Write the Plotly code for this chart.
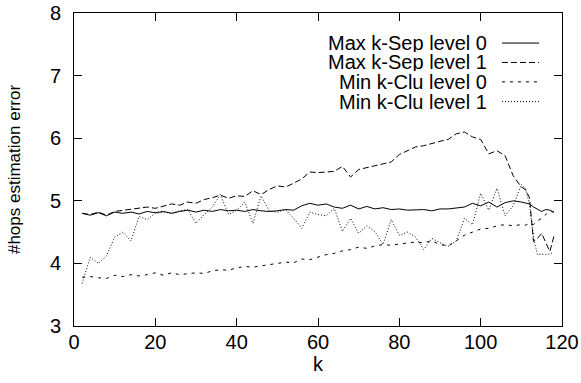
import plotly.graph_objects as go

# ---- data ----
k = list(range(2, 111, 2)) + list(range(111, 119))

max_sep_l0 = [4.80, 4.77, 4.81, 4.76, 4.82, 4.80, 4.82, 4.79, 4.83, 4.81,
              4.83, 4.80, 4.83, 4.85, 4.82, 4.85, 4.83, 4.86, 4.84, 4.85,
              4.83, 4.86, 4.84, 4.83, 4.84, 4.86, 4.85, 4.92, 4.96, 4.93,
              4.95, 4.90, 4.88, 4.93, 4.87, 4.91, 4.87, 4.89, 4.86, 4.87,
              4.85, 4.85, 4.86, 4.84, 4.87, 4.87, 4.88, 4.90, 4.96, 4.92,
              4.98, 4.90, 4.97, 5.00, 4.98,
              4.96, 4.95, 4.90, 4.87, 4.83, 4.86, 4.85, 4.82]

max_sep_l1 = [4.80, 4.78, 4.82, 4.77, 4.83, 4.85, 4.87, 4.88, 4.90, 4.88,
              4.92, 4.95, 4.93, 4.98, 4.96, 5.02, 5.05, 5.09, 5.04, 5.08,
              5.07, 5.16, 5.10, 5.18, 5.24, 5.22, 5.28, 5.35, 5.46, 5.45,
              5.46, 5.47, 5.55, 5.38, 5.50, 5.53, 5.56, 5.58, 5.62, 5.74,
              5.80, 5.86, 5.88, 5.92, 5.95, 5.98, 6.07, 6.10, 6.02, 5.98,
              5.75, 5.80, 5.72, 5.40, 5.22,
              5.18, 5.05, 4.35, 4.40, 4.48, 4.33, 4.19, 4.43]

min_clu_l0 = [3.78, 3.79, 3.77, 3.76, 3.81, 3.79, 3.82, 3.80, 3.82, 3.85,
              3.81, 3.85, 3.82, 3.84, 3.85, 3.84, 3.88, 3.90, 3.89, 3.93,
              3.95, 3.94, 3.96, 3.98, 4.00, 4.02, 4.01, 4.07, 4.06, 4.10,
              4.14, 4.16, 4.20, 4.22, 4.26, 4.24, 4.28, 4.30, 4.29, 4.31,
              4.32, 4.34, 4.33, 4.36, 4.30, 4.28, 4.36, 4.45, 4.50, 4.55,
              4.56, 4.60, 4.62, 4.60, 4.62,
              4.61, 4.64, 4.62, 4.68, 4.72, 4.78, 4.83, 4.82]

min_clu_l1 = [3.68, 4.10, 4.00, 4.12, 4.42, 4.50, 4.36, 4.75, 4.70, 4.80,
              4.82, 4.80, 4.84, 4.86, 4.64, 4.78, 4.90, 5.10, 4.78, 4.85,
              4.98, 4.64, 5.08, 4.84, 4.82, 4.86, 4.72, 4.56, 4.82, 4.78,
              4.76, 4.88, 4.51, 4.72, 4.48, 4.60, 4.51, 4.30, 4.70, 4.45,
              4.50, 4.42, 4.22, 4.40, 4.33, 4.27, 4.36, 4.72, 4.62, 5.12,
              4.85, 5.20, 4.76, 4.92, 5.26,
              5.20, 4.95, 4.40, 4.14, 4.15, 4.14, 4.15, 4.18]

series_names = ["Max k-Sep level 0", "Max k-Sep level 1",
                "Min k-Clu level 0", "Min k-Clu level 1"]
series_vals = [max_sep_l0, max_sep_l1, min_clu_l0, min_clu_l1]
dashes = ["solid", "6px,3px", "3px,5px", "1px,2px"]

x_ticks = [0, 20, 40, 60, 80, 100, 120]
y_ticks = [3, 4, 5, 6, 7, 8]

FONT = "Liberation Sans, Arial, sans-serif"

fig = go.Figure()
for name, vals, d in zip(series_names, series_vals, dashes):
    fig.add_trace(go.Scatter(x=k, y=vals, mode="lines", name=name,
                             line=dict(color="black", width=1, dash=d),
                             showlegend=False))

# gnuplot-style legend: text right-aligned, sample line to its right
row_y = [0.904, 0.842, 0.780, 0.717]
for name, d, yy in zip(series_names, dashes, row_y):
    fig.add_annotation(x=0.848, y=yy, xref="paper", yref="paper",
                       text=name, showarrow=False, xanchor="right",
                       yanchor="middle", height=18, valign="middle", borderpad=0,
                       font=dict(family=FONT, size=20, color="black"))
    fig.add_shape(type="line", xref="paper", yref="paper",
                  x0=0.877, x1=0.953, y0=yy, y1=yy,
                  line=dict(color="black", width=1, dash=d))

axis_common = dict(showline=True, linecolor="black", linewidth=1, mirror="ticks",
                   ticks="inside", ticklen=8, tickcolor="black", tickwidth=1,
                   showgrid=False, zeroline=False, ticklabeloverflow="allow",
                   tickfont=dict(family=FONT, size=20, color="black"))

fig.update_xaxes(range=[0, 120], tickvals=x_ticks, ticklabelstandoff=-2,
                 title=dict(text="k", font=dict(family=FONT, size=20, color="black"), standoff=0),
                 **axis_common)
fig.update_yaxes(range=[3, 8], tickvals=y_ticks, ticklabelstandoff=8,
                 title=dict(text="#hops estimation error", font=dict(family=FONT, size=17, color="black"), standoff=24),
                 **axis_common)

fig.update_layout(width=581, height=383,
                  margin=dict(l=74, r=19, t=13, b=57, autoexpand=False),
                  plot_bgcolor="white", paper_bgcolor="white",
                  font=dict(family=FONT, color="black"))

# remove the default 8px body margin so the figure fills the window exactly
fig.write_html("out.html", config={"displayModeBar": False},
               post_script="document.body.style.margin='0';")
